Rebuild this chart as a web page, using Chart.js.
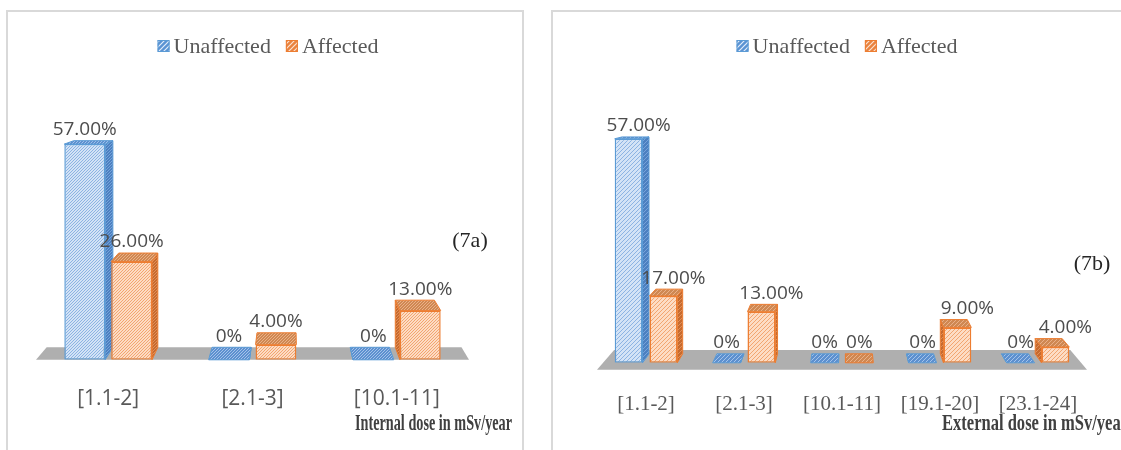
<!DOCTYPE html>
<html>
<head>
<meta charset="utf-8">
<script src="https://cdn.jsdelivr.net/npm/chart.js@4.4.1/dist/chart.umd.min.js"></script>
<style>
  body { margin: 0; background: #fff; width: 1121px; height: 450px; overflow: hidden; position: relative; }
  .panel { position: absolute; top: 10px; height: 470px; border: 2px solid #d9d9d9; box-sizing: border-box; }
  canvas { position: absolute; top: 0; }
</style>
</head>
<body>
<div class="panel" style="left:6px; width:518px"></div>
<div class="panel" style="left:551px; width:620px"></div>
<canvas id="internal" width="540" height="450" style="left:0"></canvas>
<canvas id="external" width="581" height="450" style="left:540px"></canvas>
<script>
const seriesNames = ['Unaffected', 'Affected'];

// internal dose (7a)
const internalLabels = ['[1.1-2]', '[2.1-3]', '[10.1-11]'];
const internalUnaffected = [57, 0, 0];
const internalAffected = [26, 4, 13];

// external dose (7b)
const externalLabels = ['[1.1-2]', '[2.1-3]', '[10.1-11]', '[19.1-20]', '[23.1-24]'];
const externalUnaffected = [57, 0, 0, 0, 0];
const externalAffected = [17, 13, 0, 9, 4];

// diagonal "////" hatch tile
function hatch(ctx, bg, fg, gap, lw) {
  const c = document.createElement('canvas');
  c.width = c.height = gap;
  const g = c.getContext('2d');
  g.fillStyle = bg;
  g.fillRect(0, 0, gap, gap);
  g.strokeStyle = fg;
  g.lineWidth = lw;
  g.beginPath();
  g.moveTo(-1, gap + 1); g.lineTo(gap + 1, -1);
  g.moveTo(-1, 1); g.lineTo(1, -1);
  g.moveTo(gap - 1, gap + 1); g.lineTo(gap + 1, gap - 1);
  g.stroke();
  return ctx.createPattern(c, 'repeat');
}

function palette(ctx, gap) {
  return [
    { border: '#5b9bd5',
      front: hatch(ctx, '#d3e3f6', '#8cb3e2', gap, 1),
      side: hatch(ctx, '#4c80c0', '#76a3da', gap, 1),
      top: hatch(ctx, '#5d90cf', '#a3c3ea', gap, 1),
      key: hatch(ctx, '#5b93d3', '#e3eefa', 5, 1.2) },
    { border: '#ed7d31',
      front: hatch(ctx, '#fddcc4', '#f2a570', gap, 1),
      side: hatch(ctx, '#c76a2e', '#e0905a', gap, 1),
      top: hatch(ctx, '#cf8852', '#eab088', gap, 1),
      key: hatch(ctx, '#e9823e', '#fbe3d2', 5, 1.2) }
  ];
}

function poly(ctx, pts, fill, stroke) {
  ctx.beginPath();
  ctx.moveTo(pts[0][0], pts[0][1]);
  for (let i = 1; i < pts.length; i++) ctx.lineTo(pts[i][0], pts[i][1]);
  ctx.closePath();
  ctx.fillStyle = fill;
  ctx.fill();
  if (stroke) {
    ctx.strokeStyle = stroke;
    ctx.lineWidth = 1;
    ctx.stroke();
  }
}

// fakes the Excel 3D column look: floor, side and top faces behind the
// front faces that Chart.js draws, then labels, legend and captions on top
function depthPlugin(cfg, colors) {
  const toBack = (p, t) => [p[0] + t * (cfg.vx - p[0]), p[1] + t * (cfg.vy - p[1])];
  return {
    id: 'depth3d',
    beforeDatasetsDraw(chart) {
      const ctx = chart.ctx;
      const area = chart.chartArea;
      const base = chart.scales.y.getPixelForValue(0);
      ctx.save();
      const fy = base + cfg.floorDrop;
      const fl = [area.left, fy], fr = [area.right, fy];
      poly(ctx, [fl, fr, toBack(fr, cfg.floorT), toBack(fl, cfg.floorT)], '#afafaf');

      const n = chart.data.labels.length;
      for (let j = 0; j < n; j++) {
        chart.data.datasets.forEach((ds, i) => {
          const bar = chart.getDatasetMeta(i).data[j];
          const x0 = bar.x - bar.width / 2, x1 = bar.x + bar.width / 2;
          const top = bar.y, bot = bar.base;
          const c = colors[i];
          if (cfg.vx > x1) {
            poly(ctx, [[x1, top], toBack([x1, top], cfg.t), toBack([x1, bot], cfg.t), [x1, bot]], c.side, c.border);
          } else if (cfg.vx < x0) {
            poly(ctx, [[x0, top], toBack([x0, top], cfg.t), toBack([x0, bot], cfg.t), [x0, bot]], c.side, c.border);
          }
          if (cfg.vy < top) {
            poly(ctx, [[x0, top], [x1, top], toBack([x1, top], cfg.t), toBack([x0, top], cfg.t)], c.top, c.border);
          }
        });
      }
      ctx.restore();
    },
    afterDatasetsDraw(chart) {
      const ctx = chart.ctx;
      ctx.save();
      ctx.textBaseline = 'middle';
      ctx.textAlign = 'center';
      ctx.font = cfg.valueFont;
      ctx.fillStyle = '#4d4d4d';
      chart.data.datasets.forEach((ds, i) => {
        chart.getDatasetMeta(i).data.forEach((bar, j) => {
          const v = ds.data[j];
          const backTop = toBack([bar.x, bar.y], cfg.t)[1];
          const txt = v === 0 ? '0%' : v.toFixed(2) + '%';
          ctx.fillText(txt, bar.x + (v === 0 ? 0 : cfg.labelDx), backTop - 11);
        });
      });

      // legend
      ctx.font = cfg.legendFont;
      ctx.textAlign = 'left';
      const box = 12, gapIn = 4, gapOut = 15;
      const widths = seriesNames.map(s => ctx.measureText(s).width);
      let x = cfg.legendX - (2 * (box + gapIn) + widths[0] + widths[1] + gapOut) / 2;
      seriesNames.forEach((s, i) => {
        ctx.fillStyle = colors[i].key;
        ctx.fillRect(x, cfg.legendY - box / 2, box, box);
        ctx.strokeStyle = colors[i].border;
        ctx.lineWidth = 1;
        ctx.strokeRect(x + 0.5, cfg.legendY - box / 2 + 0.5, box - 1, box - 1);
        ctx.fillStyle = '#595959';
        ctx.fillText(s, x + box + gapIn, cfg.legendY + 1);
        x += box + gapIn + widths[i] + gapOut;
      });

      // panel tag
      ctx.font = '22px "Liberation Serif", serif';
      ctx.textAlign = 'center';
      ctx.fillStyle = '#262626';
      ctx.fillText(cfg.tag, cfg.tagX, cfg.tagY);

      // axis caption, bold and squeezed
      ctx.font = 'bold 24px "Liberation Serif", serif';
      ctx.textAlign = 'left';
      ctx.fillStyle = '#404040';
      const w = ctx.measureText(cfg.caption).width;
      ctx.translate(cfg.captionX, cfg.captionY);
      ctx.scale(cfg.captionWidth / w, 1);
      ctx.fillText(cfg.caption, 0, 0);
      ctx.restore();
    }
  };
}

function doseChart(id, labels, unaffected, affected, opts) {
  const canvas = document.getElementById(id);
  const colors = palette(canvas.getContext('2d'), opts.hatchGap);
  return new Chart(canvas, {
    type: 'bar',
    data: {
      labels: labels,
      datasets: [unaffected, affected].map((d, i) => ({
        label: seriesNames[i],
        data: d,
        backgroundColor: colors[i].front,
        borderColor: colors[i].border,
        borderWidth: 1.5,
        borderSkipped: false,
        barPercentage: opts.barPct,
        categoryPercentage: opts.catPct
      }))
    },
    options: {
      responsive: false,
      animation: false,
      devicePixelRatio: 1,
      events: [],
      layout: { padding: opts.padding },
      plugins: { legend: { display: false }, tooltip: { enabled: false } },
      scales: {
        x: {
          grid: { display: false, drawTicks: false },
          border: { display: false },
          ticks: {
            padding: opts.tickPad,
            color: '#595959',
            font: opts.tickFont,
            maxRotation: 0,
            autoSkip: false
          }
        },
        y: { display: false, min: 0, max: 75 }
      }
    },
    plugins: [depthPlugin(opts.depth, colors)]
  });
}

doseChart('internal', internalLabels, internalUnaffected, internalAffected, {
  hatchGap: 3,
  barPct: 0.87,
  catPct: 0.65,
  padding: { left: 36, right: 71, top: 76, bottom: 11 },
  tickPad: 27,
  tickFont: { family: '"Open Sans", "Noto Sans", sans-serif', size: 21 },
  depth: {
    vx: 290, vy: 62, t: 0.042, floorT: 0.042, floorDrop: 0,
    labelDx: 0,
    valueFont: '19px "Open Sans", "Noto Sans", sans-serif',
    legendFont: '22px "Liberation Serif", serif',
    legendX: 268, legendY: 46,
    tag: '(7a)', tagX: 470, tagY: 241,
    caption: 'Internal dose in mSv/year', captionX: 355, captionY: 424, captionWidth: 157
  }
});

doseChart('external', externalLabels, externalUnaffected, externalAffected, {
  hatchGap: 4,
  barPct: 0.8,
  catPct: 0.71,
  padding: { left: 57, right: 34, top: 68, bottom: 4 },
  tickPad: 29,
  tickFont: { family: '"Liberation Serif", serif', size: 21 },
  depth: {
    vx: 305, vy: 82, t: 0.032, floorT: 0.069, floorDrop: 7,
    labelDx: 10,
    valueFont: '19px "Open Sans", "Noto Sans", sans-serif',
    legendFont: '22px "Liberation Serif", serif',
    legendX: 307, legendY: 46,
    tag: '(7b)', tagX: 552, tagY: 264,
    caption: 'External dose in mSv/year', captionX: 402, captionY: 424, captionWidth: 186
  }
});
</script>
</body>
</html>
